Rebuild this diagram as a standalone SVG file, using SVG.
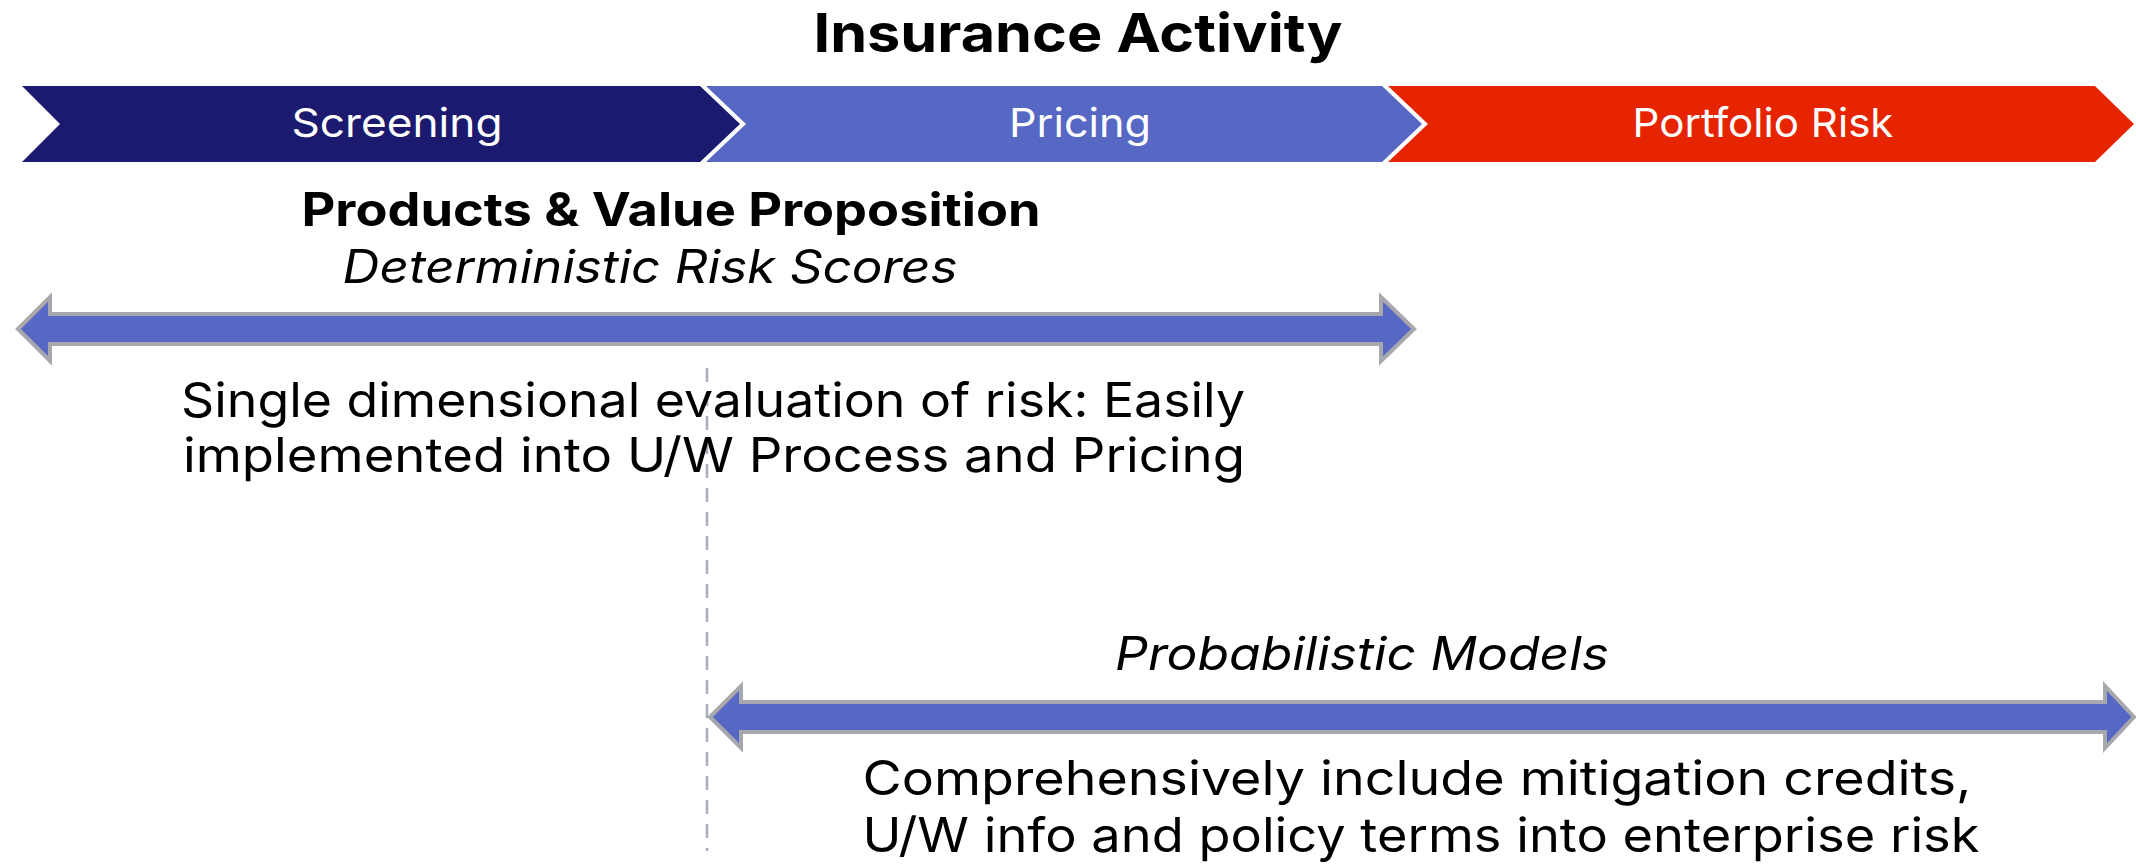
<svg xmlns="http://www.w3.org/2000/svg" width="2136" height="865" viewBox="0 0 2136 865">
<style>
  text { font-family: Inter, "Open Sans", "Liberation Sans", sans-serif; fill: #000; text-anchor: middle; }
  .title { font-size: 54px; font-weight: 700; }
  .chev { font-size: 40px; fill: #fff; }
  .head { font-size: 46px; font-weight: 700; }
  .sub { font-size: 46px; font-style: italic; }
  .body { font-size: 48px; }
  .arrow { fill: #5767C4; stroke: #A6A8AE; stroke-width: 4; stroke-linejoin: miter; }
  .divider { stroke: #A8ADBF; stroke-width: 2.5; stroke-dasharray: 14 10; fill: none; }
</style>
<rect width="2136" height="865" fill="#fff"/>

<g id="title">
  <text class="title" x="1078" y="52" textLength="529" lengthAdjust="spacingAndGlyphs">Insurance Activity</text>
</g>

<g id="screening">
  <polygon points="22,86 700,86 740,124 700,162 22,162 60,124" fill="#1B1A6E"/>
  <text class="chev" x="397" y="137" textLength="211" lengthAdjust="spacingAndGlyphs">Screening</text>
</g>
<g id="pricing">
  <polygon points="706,86 1382,86 1422,124 1382,162 706,162 746,124" fill="#5767C4"/>
  <text class="chev" x="1080" y="137" textLength="142" lengthAdjust="spacingAndGlyphs">Pricing</text>
</g>
<g id="portfolio-risk">
  <polygon points="1388,86 2095,86 2134,124 2095,162 1388,162 1428,124" fill="#E62500"/>
  <text class="chev" x="1763" y="137" textLength="261" lengthAdjust="spacingAndGlyphs">Portfolio Risk</text>
</g>

<g id="connectors">
  <line class="divider" x1="707" y1="368" x2="707" y2="851"/>
  <polygon class="arrow" points="18,329 50,297 50,314 1381,314 1381,297 1414,329 1381,361 1381,344 50,344 50,361"/>
  <polygon class="arrow" points="710,717 741,686 741,702 2105,702 2105,686 2134,717 2105,748 2105,732 741,732 741,748"/>
</g>

<g id="deterministic">
  <text class="head" x="671" y="226" textLength="739" lengthAdjust="spacingAndGlyphs">Products &amp; Value Proposition</text>
  <text class="sub" x="650" y="283" textLength="615" lengthAdjust="spacingAndGlyphs">Deterministic Risk Scores</text>
  <text class="body" x="713" y="417" textLength="1064" lengthAdjust="spacingAndGlyphs">Single dimensional evaluation of risk: Easily</text>
  <text class="body" x="714" y="472" textLength="1062" lengthAdjust="spacingAndGlyphs">implemented into U/W Process and Pricing</text>
</g>

<g id="probabilistic">
  <text class="sub" x="1362" y="670" textLength="494" lengthAdjust="spacingAndGlyphs">Probabilistic Models</text>
  <text class="body" x="1417" y="795" textLength="1109" lengthAdjust="spacingAndGlyphs">Comprehensively include mitigation credits,</text>
  <text class="body" x="1421" y="852" textLength="1117" lengthAdjust="spacingAndGlyphs">U/W info and policy terms into enterprise risk</text>
</g>
</svg>
